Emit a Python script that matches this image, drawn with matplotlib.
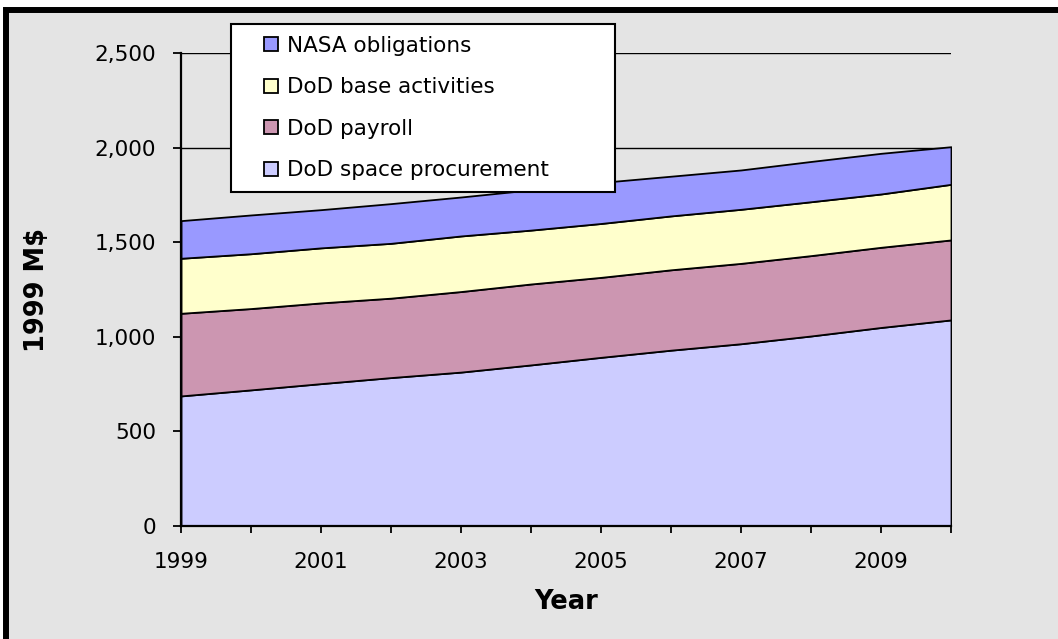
import matplotlib
matplotlib.use("Agg")
import matplotlib.pyplot as plt
from matplotlib.patches import Rectangle, Patch
from matplotlib.legend_handler import HandlerPatch
from matplotlib.ticker import FuncFormatter
import numpy as np

plt.rcParams['font.family'] = ['DejaVu Sans']

years = [1999, 2000, 2001, 2002, 2003, 2004, 2005, 2006, 2007, 2008, 2009, 2010]
space_procurement = [688, 720, 753, 785, 814, 852, 892, 930, 964, 1005, 1050, 1090]
dod_payroll = [437, 430, 427, 420, 426, 428, 423, 425, 425, 425, 424, 423]
dod_base = [291, 290, 291, 290, 294, 285, 285, 285, 286, 285, 282, 294]
nasa = [199, 205, 202, 210, 206, 213, 217, 210, 208, 213, 215, 199]

labels = ['DoD space procurement', 'DoD payroll', 'DoD base activities', 'NASA obligations']
colors = ['#ccccff', '#cc96b1', '#ffffcc', '#9999ff']

W, H = 1058, 639
fig = plt.figure(figsize=(W / 100, H / 100), dpi=100, facecolor='white')

# grey panel; only its left and top black edges fall inside the canvas
fig.patches.append(Rectangle((6 / W, -0.2), 1.3, (H - 10) / H + 0.2, transform=fig.transFigure,
                             facecolor='#e4e4e4', edgecolor='black', linewidth=4.3, zorder=-10))

ax = fig.add_axes([181 / W, (H - 526) / H, 770 / W, 472.7 / H])
ax.patch.set_visible(False)
ax.set_zorder(1)

polys = ax.stackplot(years, space_procurement, dod_payroll, dod_base, nasa,
                     colors=colors, zorder=2)
for p in polys:
    p.set_edgecolor('black')
    p.set_linewidth(1.3)

ax.set_xlim(1999, 2010)
ax.set_ylim(0, 2500)
ax.set_yticks(np.arange(0, 2501, 500))
ax.yaxis.set_major_formatter(FuncFormatter(lambda v, pos: f'{v:,.0f}'))
ax.set_xticks(years)
ax.set_xticklabels([str(y) if (y - 1999) % 2 == 0 else '' for y in years])

ax.yaxis.grid(True, color='black', linewidth=1.0)
ax.set_axisbelow(True)

for s in ['top', 'right']:
    ax.spines[s].set_visible(False)
for s in ['left', 'bottom']:
    ax.spines[s].set_linewidth(1.6)
    ax.spines[s].set_zorder(5)

ax.tick_params(axis='y', length=6, width=1.3, pad=12, labelsize=15.5)
ax.tick_params(axis='x', length=4.8, width=1.3, pad=14, labelsize=15.5)

fig.text(566 / W, (H - 602) / H, 'Year', ha='center', va='center',
         fontsize=18.5, fontweight='bold')
fig.text(37 / W, (H - 290) / H, '1999 M$', ha='center', va='center',
         rotation=90, fontsize=18.5, fontweight='bold')


# square swatch pushed to the right end of the handle box
def swatch(legend, orig_handle, xdescent, ydescent, width, height, fontsize):
    sq = 14 * 72 / 100
    return Rectangle((width - sq - xdescent, (height - sq) / 2 - ydescent), sq, sq)


handles = [Patch(facecolor=c, edgecolor='black', linewidth=1.3) for c in colors]
leg = ax.legend(handles[::-1], labels[::-1], loc='upper left', mode='expand',
                bbox_to_anchor=(231 / W, (H - 190) / H, 384 / W, 166 / H),
                bbox_transform=fig.transFigure,
                fontsize=15.5, frameon=True, fancybox=False, framealpha=1,
                edgecolor='black', handlelength=1.65, handleheight=0.75,
                handletextpad=0.4, labelspacing=1.0, borderpad=0.55,
                borderaxespad=0,
                handler_map={Patch: HandlerPatch(patch_func=swatch)})
leg.get_frame().set_linewidth(1.5)
leg.set_zorder(10)

fig.savefig('out.png', dpi=100, facecolor=fig.get_facecolor())
